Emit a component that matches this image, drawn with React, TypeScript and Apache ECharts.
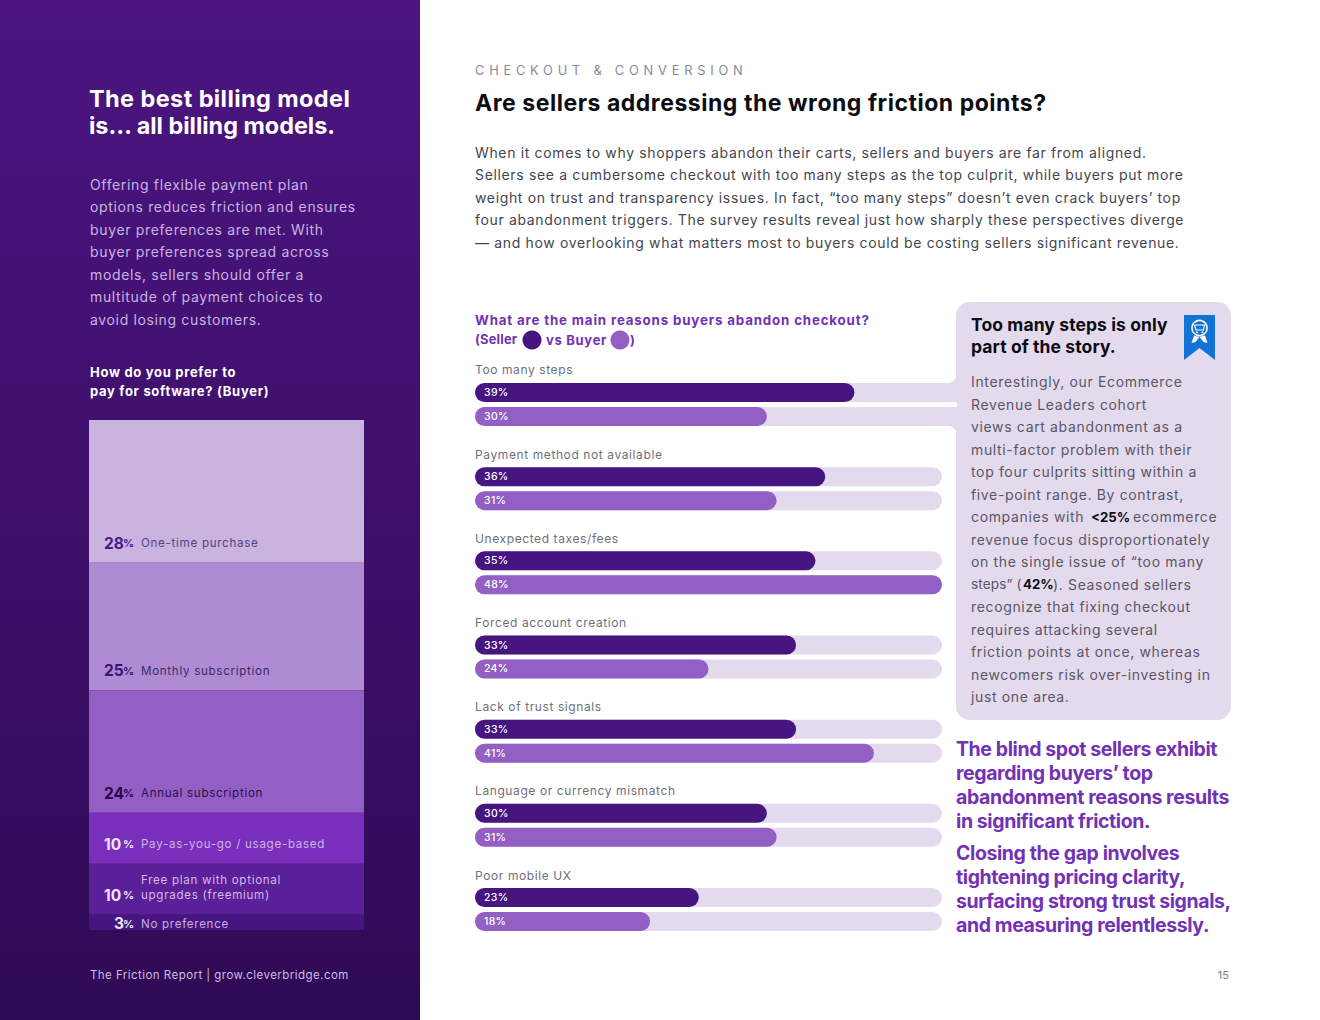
import React, { useEffect, useRef } from "react";
import * as echarts from "echarts";

const FONT = "Inter";

// Left panel stacked column
const stackNames = ["One-time purchase", "Monthly subscription", "Annual subscription", "Pay-as-you-go / usage-based", "Free plan with optional\nupgrades (freemium)", "No preference"];
const stackValues = [28, 25, 24, 10, 10, 3];
const stackColors = ["#C9B3DF", "#AE8BD2", "#945FC5", "#7A2FBC", "#5C1F9A", "#47157F"];
const stackNumColors = ["#4A1A88", "#3D1375", "#26084F", "#EFE6F8", "#EFE6F8", "#EFE6F8"];
const stackTextColors = ["#574283", "#3F2A6A", "#2A1050", "#CDB4E8", "#D0BAE8", "#C6AEE2"];

// Right bars
const categories = ["Too many steps", "Payment method not available", "Unexpected taxes/fees", "Forced account creation", "Lack of trust signals", "Language or currency mismatch", "Poor mobile UX"];
const sellerValues = [39, 36, 35, 33, 33, 30, 23];
const buyerValues = [30, 31, 48, 24, 41, 31, 18];

// Copy
const sideTitle = ["The best billing model", "is… all billing models."];
const sideBody = ["Offering flexible payment plan", "options reduces friction and ensures", "buyer preferences are met. With", "buyer preferences spread across", "models, sellers should offer a", "multitude of payment choices to", "avoid losing customers."];
const sideQuestion = ["How do you prefer to", "pay for software? (Buyer)"];
const footer = "The Friction Report | grow.cleverbridge.com";
const eyebrow = "CHECKOUT & CONVERSION";
const headline = "Are sellers addressing the wrong friction points?";
const intro = [
  "When it comes to why shoppers abandon their carts, sellers and buyers are far from aligned.",
  "Sellers see a cumbersome checkout with too many steps as the top culprit, while buyers put more",
  "weight on trust and transparency issues. In fact, “too many steps” doesn’t even crack buyers’ top",
  "four abandonment triggers. The survey results reveal just how sharply these perspectives diverge",
  "— and how overlooking what matters most to buyers could be costing sellers significant revenue.",
];
const calloutTitle = ["Too many steps is only", "part of the story."];
const calloutLines = [
  "Interestingly, our Ecommerce",
  "Revenue Leaders cohort",
  "views cart abandonment as a",
  "multi-factor problem with their",
  "top four culprits sitting within a",
  "five-point range. By contrast,",
  null,
  "revenue focus disproportionately",
  "on the single issue of “too many",
  null,
  "recognize that fixing checkout",
  "requires attacking several",
  "friction points at once, whereas",
  "newcomers risk over-investing in",
  "just one area.",
];
const blind = ["The blind spot sellers exhibit", "regarding buyers’ top", "abandonment reasons results", "in significant friction."];
const closing = ["Closing the gap involves", "tightening pricing clarity,", "surfacing strong trust signals,", "and measuring relentlessly."];

const SELLER = "#47157F";
const BUYER = "#945FC5";
const TRACK = "#E3DAED";
const PURPLE = "#7232B4";

// Letter spacing per font size (zrender has no letter-spacing style; inherited through CSS)
const tracking: Record<string, number> = {
  "14px": 0.65, "13.6px": 0.1, "12.8px": 4.8, "23.5px": 0.4, "23.4px": 0, "23px": 0.53, "13px": 0.7, "12.9px": 0.2, "13.3px": 0.84, "12px": 0.6, "11.5px": 0.45,
  "11.6px": 0.7, "17.5px": 0.1, "19.5px": -0.4, "10.5px": 0.3, "13.2px": 0, "15.5px": 0, "11px": 0,
};
const css = Object.entries(tracking).map(([s, v]) => `svg text[style*=" ${s}"]{letter-spacing:${v}px}`).join("\n");

echarts.graphic.registerShape("fillet", echarts.graphic.extendPath("M0 0 L0 -12 Q0 0 -12 0 Z", {}));

const txt = (text: string, x: number, y: number, fontSize: number, fill: string, fontWeight: number = 400, align: string = "left") => ({
  type: "text", x, y, z: 5,
  style: { text, fontFamily: FONT, fontSize, fontWeight, fill, align, verticalAlign: "middle" },
});

function pageGraphics() {
  const g: any[] = [];
  g.push({ type: "rect", z: 0, shape: { x: 0, y: 0, width: 420, height: 1020 }, style: { fill: new echarts.graphic.LinearGradient(0, 0, 0, 1, [{ offset: 0, color: "#4C1581" }, { offset: 1, color: "#2F0A55" }]) } });
  g.push(txt(sideTitle[0], 89, 98.5, 23.5, "#FFFFFF", 700));
  g.push(txt(sideTitle[1], 89, 125.5, 23.4, "#FFFFFF", 700));
  sideBody.forEach((t, i) => g.push(txt(t, 90, 184 + i * 22.5, 14, "#C9B3E2")));
  sideQuestion.forEach((t, i) => g.push(txt(t, 90, 372 + i * 19, 13, "#FFFFFF", 700)));
  g.push(txt(footer, 90, 975, 11.5, "#CDBBE2"));

  g.push(txt(eyebrow, 475, 70.5, 12.8, "#8A8A94", 400));
  g.push(txt(headline, 475, 103, 23, "#0C0C12", 700));
  intro.forEach((t, i) => g.push(txt(t, 475, 152 + i * 22.5, 14, "#45454F")));

  g.push(txt("What are the main reasons buyers abandon checkout?", 475, 320, 13.3, PURPLE, 700));
  g.push(txt("(Seller", 475, 339.5, 12.9, PURPLE, 700));
  g.push({ type: "circle", z: 5, shape: { cx: 532, cy: 340, r: 9.5 }, style: { fill: SELLER } });
  g.push(txt("vs Buyer", 546, 339.5, 13, PURPLE, 700));
  g.push({ type: "circle", z: 5, shape: { cx: 620, cy: 340, r: 9.5 }, style: { fill: BUYER } });
  g.push(txt(")", 630, 339.5, 13, PURPLE, 700));

  // callout panel joined to the first bar pair
  g.push({ type: "rect", z: 1, shape: { x: 956, y: 302, width: 275, height: 418, r: 14 }, style: { fill: TRACK } });
  g.push({ type: "rect", z: 1, shape: { x: 932, y: 383, width: 26, height: 19 }, style: { fill: TRACK } });
  g.push({ type: "rect", z: 1, shape: { x: 932, y: 407, width: 26, height: 19 }, style: { fill: TRACK } });
  g.push({ type: "fillet", z: 1, x: 957, y: 383.5, style: { fill: TRACK } });
  g.push({ type: "fillet", z: 1, x: 957, y: 425.5, scaleY: -1, style: { fill: TRACK } });
  g.push({ type: "circle", z: 2, shape: { cx: 955, cy: 404.5, r: 2.5 }, style: { fill: "#FFFFFF" } });

  calloutTitle.forEach((t, i) => g.push(txt(t, 971, 324 + i * 22, 17.5, "#0C0C12", 700)));
  g.push({ type: "polygon", z: 5, shape: { points: [[1184, 315], [1215, 315], [1215, 360], [1199.5, 348], [1184, 360]] }, style: { fill: "#1272D6" } });
  g.push({ type: "circle", z: 6, shape: { cx: 1199.5, cy: 328, r: 7.5 }, style: { fill: "none", stroke: "#FFFFFF", lineWidth: 1.6 } });
  g.push({ type: "polyline", z: 6, shape: { points: [[1194.5, 325], [1204.5, 325], [1203.5, 330], [1196, 330], [1194.5, 325]] }, style: { fill: "none", stroke: "#FFFFFF", lineWidth: 1.2 } });
  g.push({ type: "circle", z: 6, shape: { cx: 1197, cy: 332.2, r: 0.9 }, style: { fill: "#FFFFFF" } });
  g.push({ type: "circle", z: 6, shape: { cx: 1202.5, cy: 332.2, r: 0.9 }, style: { fill: "#FFFFFF" } });
  g.push({ type: "polygon", z: 6, shape: { points: [[1194, 335.5], [1191.5, 343], [1195.5, 342], [1199.5, 337], [1203.5, 342], [1207.5, 343], [1205, 335.5], [1199.5, 337]] }, style: { fill: "#FFFFFF" } });

  const bodyFill = "#5B5666";
  calloutLines.forEach((t, i) => { if (t) g.push(txt(t, 971, 381.5 + i * 22.5, 14, bodyFill)); });
  // lines with bold fragments
  g.push(txt("companies with", 971, 516.5, 14, bodyFill));
  g.push(txt("<25%", 1091, 516.5, 13.2, "#0C0C12", 700));
  g.push(txt("ecommerce", 1133, 516.5, 14, bodyFill));
  g.push(txt("steps” (", 971, 584, 13.6, bodyFill));
  g.push(txt("42%", 1023, 584, 13.2, "#0C0C12", 700));
  g.push(txt("). Seasoned sellers", 1053, 584, 14, bodyFill));

  blind.forEach((t, i) => g.push(txt(t, 956, 748.5 + i * 24, 19.5, PURPLE, 700)));
  closing.forEach((t, i) => g.push(txt(t, 956, 852.5 + i * 24, 19.5, PURPLE, 700)));
  g.push(txt("15", 1229, 975, 11, "#7A7A84", 400, "right"));
  return g;
}

function stackSeries() {
  return stackValues.map((v, i) => {
    const lines = stackNames[i].split("\n");
    const head = lines.length > 1 ? `{h|}{t|${lines[0]}}\n` : "";
    const last = lines[lines.length - 1];
    const spacer = v < 10 ? "s1" : "s2";
    return {
      type: "bar", name: stackNames[i], stack: "all", xAxisIndex: 0, yAxisIndex: 0,
      barWidth: "100%", itemStyle: { color: stackColors[i] }, z: 3,
      data: [v],
      label: {
        show: true, position: "insideBottomLeft", distance: 5, offset: i === 5 ? [0, 6] : [0, -7],
        formatter: `${head}{${spacer}|}{n${v < 10 ? "1" : "2"}|${v}}{p|%}{g|}{t|${last}}`,
        rich: {
          h: { width: 47, height: 15, align: "left" },
          s1: { width: 20, height: 15, align: "left" },
          s2: { width: 10, height: 15, align: "left" },
          g: { width: 5, height: 15, align: "left" },
          n1: { width: 9, align: "left", fontFamily: FONT, fontSize: 15.5, fontWeight: 700, color: stackNumColors[i], lineHeight: 15 },
          n2: { width: 19, align: "left", fontFamily: FONT, fontSize: 15.5, fontWeight: 700, color: stackNumColors[i], lineHeight: 15 },
          p: { width: 13, align: "left", fontFamily: FONT, fontSize: 11, fontWeight: 700, color: stackNumColors[i], lineHeight: 15 },
          t: { align: "left", fontFamily: FONT, fontSize: 11.6, color: stackTextColors[i], lineHeight: 15 },
        },
      },
    };
  });
}

function barSeries(name: string, values: number[], color: string) {
  return {
    type: "bar", name, xAxisIndex: 1, yAxisIndex: 1, barWidth: 19, barGap: "26%", z: 3,
    data: values,
    showBackground: true,
    backgroundStyle: { color: TRACK, borderRadius: 9.5 },
    itemStyle: { color, borderRadius: 9.5 },
    label: { show: true, position: "insideLeft", distance: 9, formatter: "{c}%", fontFamily: FONT, fontSize: 10.5, fontWeight: 500, color: "#FFFFFF" },
  };
}

export default function App() {
  const ref = useRef<HTMLDivElement>(null);
  useEffect(() => {
    const chart = echarts.init(ref.current!, undefined, { renderer: "svg" });
    chart.setOption({
      animation: false,
      backgroundColor: "#FFFFFF",
      textStyle: { fontFamily: FONT },
      grid: [
        { left: 89, top: 420, width: 275, height: 510 },
        { left: 475, top: 362.4, width: 467, height: 589.2 },
      ],
      xAxis: [
        { type: "category", gridIndex: 0, data: ["Buyer"], show: false },
        { type: "value", gridIndex: 1, min: 0, max: 48, show: false },
      ],
      yAxis: [
        { type: "value", gridIndex: 0, min: 0, max: 100, inverse: true, show: false },
        {
          type: "category", gridIndex: 1, data: categories, inverse: true,
          axisLine: { show: false }, axisTick: { show: false },
          axisLabel: { inside: true, margin: 0, align: "left", verticalAlign: "bottom", padding: [0, 0, 28.5, 0], fontFamily: FONT, fontSize: 12, color: "#6F6F7A", interval: 0, hideOverlap: false },
        },
      ],
      graphic: { elements: pageGraphics() },
      series: [...stackSeries(), barSeries("Seller", sellerValues, SELLER), barSeries("Buyer", buyerValues, BUYER)],
    });
    return () => chart.dispose();
  }, []);
  return (
    <>
      <style>{css}</style>
      <div ref={ref} style={{ position: "absolute", left: 0, top: 0, width: 1320, height: 1020 }} />
    </>
  );
}
